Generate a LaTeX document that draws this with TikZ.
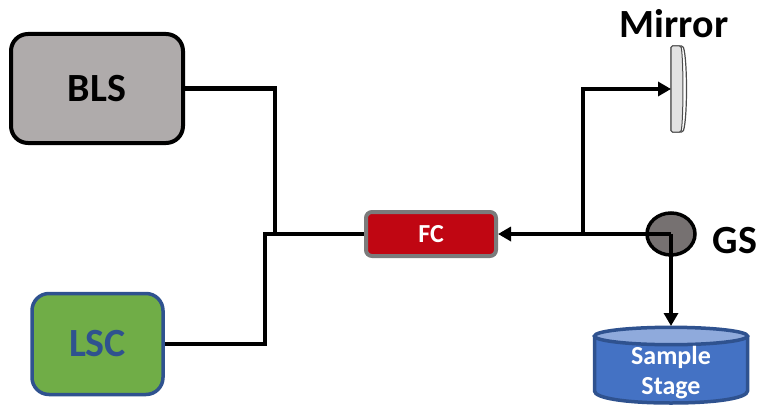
\documentclass[tikz,border=0pt]{standalone}
\usepackage{fontspec}
\setmainfont{Carlito}
\usetikzlibrary{arrows.meta,calc,shapes.geometric}
\definecolor{blsfill}{HTML}{AFABAB}
\definecolor{lscfill}{HTML}{70AD47}
\definecolor{bluedge}{HTML}{2F528F}
\definecolor{fcfill}{HTML}{C00612}
\definecolor{fcedge}{HTML}{7B7B7B}
\definecolor{gsfill}{HTML}{767171}
\definecolor{stagefill}{HTML}{4472C4}
\definecolor{stagetop}{HTML}{8FAADC}
\definecolor{mirrorfill}{HTML}{E2E2E2}
\tikzset{
  boxlabel/.style={font=\bfseries\fontsize{40}{40}\selectfont},
  srcbox/.style={rectangle,rounded corners=17pt,inner sep=0pt,boxlabel},
  beam/.style={line width=4.4pt,draw=black,line join=miter},
  beamarrow/.style={beam,-{Triangle[length=13pt,width=14pt]}},
}
\begin{document}
\begin{tikzpicture}[x=1pt,y=-1pt]
\useasboundingbox (0,0) rectangle (757,404);
% nodes
\node[srcbox,draw=black,line width=4pt,fill=blsfill,minimum width=172pt,minimum height=109pt] (bls) at (97,88.5) {BLS};
\node[srcbox,draw=bluedge,line width=3.5pt,fill=lscfill,text=bluedge,minimum width=131pt,minimum height=101pt] (lsc) at (97.5,344) {LSC};
\node[rectangle,rounded corners=6pt,draw=fcedge,line width=4pt,fill=fcfill,text=white,inner sep=0pt,minimum width=130pt,minimum height=44pt,font=\bfseries\fontsize{26}{26}\selectfont] (fc) at (431,234) {FC};
\node[ellipse,draw=black,line width=3.5pt,fill=gsfill,minimum width=48pt,minimum height=42pt,inner sep=0pt] (gs) at (671,234) {};
\node[boxlabel] (gslabel) at (735,241) {GS};
\node[boxlabel] (mirrorlabel) at (674,24) {Mirror};
% mirror
\draw[black!70,line width=1.2pt,fill=white,rounded corners=1.5pt] (671,46) -- (683,46) .. controls (687.5,60) and (687.5,118) .. (683,132) -- (671,132) -- cycle;
\draw[black!70,line width=1pt,fill=mirrorfill,rounded corners=1.5pt] (671,46) -- (681,46) .. controls (683.5,60) and (683.5,118) .. (681,132) -- (671,132) -- cycle;
\coordinate (mirrorface) at (671,89);
% stage
\fill[stagefill] (594.5,336) -- (594.5,391) .. controls (594.5,398) and (625,403) .. (671,403) .. controls (717,403) and (747.5,398) .. (747.5,391) -- (747.5,336) -- cycle;
\draw[bluedge,line width=3.5pt] (594.5,336) -- (594.5,391) .. controls (594.5,398) and (625,403) .. (671,403) .. controls (717,403) and (747.5,398) .. (747.5,391) -- (747.5,336);
\draw[bluedge,line width=3.5pt,fill=stagetop] (671,336) ellipse[x radius=76.5pt,y radius=8.7pt];
\coordinate (stagetopc) at (671,326);
\node[text=white,font=\bfseries\fontsize{26}{26}\selectfont] (sample) at (671,357) {Sample};
\node[text=white,font=\bfseries\fontsize{26}{26}\selectfont] (stage) at (671,388) {Stage};
% connectors
\coordinate (jbls) at (275,234);
\coordinate (jlsc) at (265,234);
\coordinate (jmirror) at (583,234);
\coordinate (gsc) at (671,234);
\draw[beam] (bls.east) -| (jbls);
\draw[beam] (lsc.east) -| (jlsc) -- (fc.west);
\draw[beamarrow] (gsc) -- (fc.east);
\draw[beamarrow] (jmirror) |- (mirrorface);
\draw[beamarrow] (gsc) -- (stagetopc);
\end{tikzpicture}
\end{document}
